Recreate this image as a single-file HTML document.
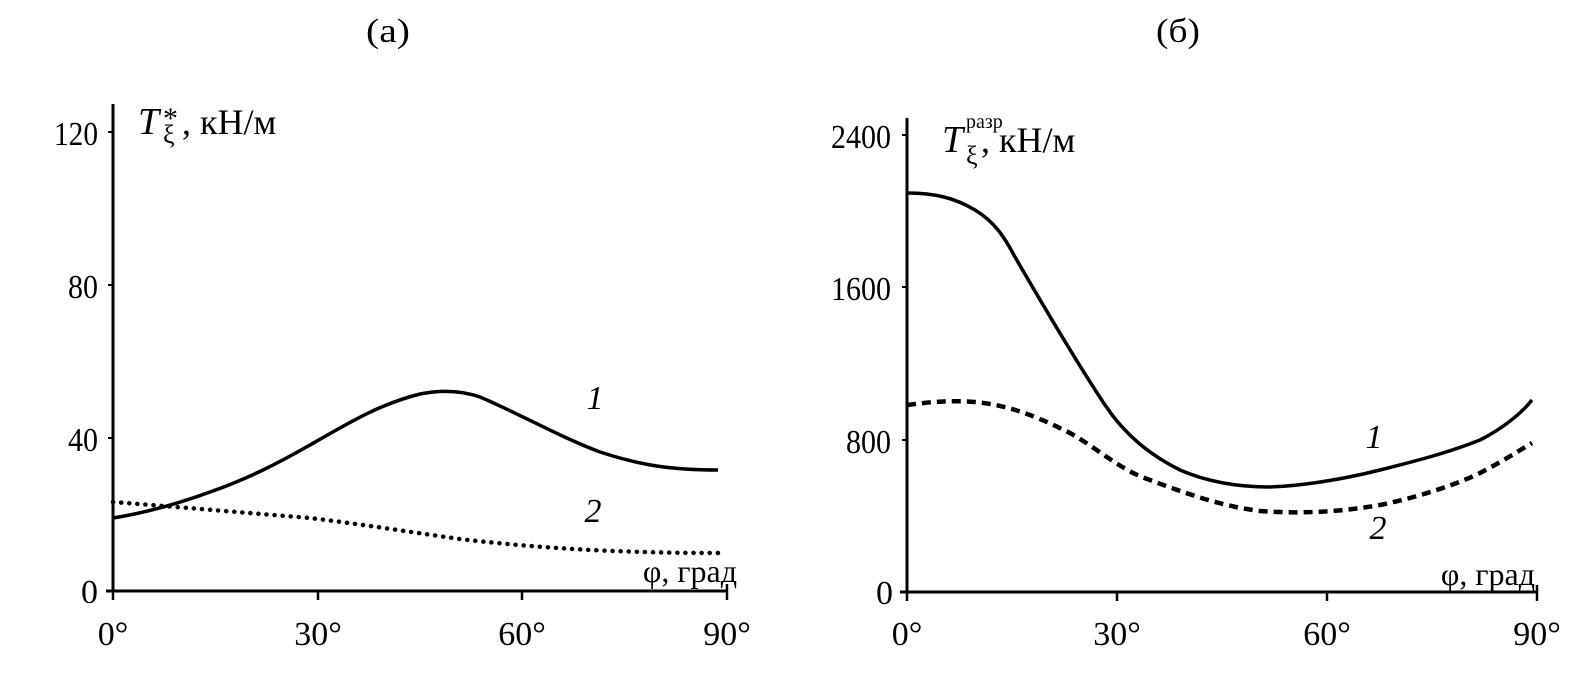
<!DOCTYPE html>
<html><head><meta charset="utf-8"><style>
html,body{margin:0;padding:0;background:#fff}
svg{display:block}
text{font-family:"Liberation Serif",serif;fill:#000}
</style></head><body>
<svg width="1594" height="675" viewBox="0 0 1594 675" xmlns="http://www.w3.org/2000/svg">
<text x="388" y="42" font-size="34" text-anchor="middle" textLength="44" lengthAdjust="spacingAndGlyphs">(а)</text>
<text x="1178" y="42" font-size="34" text-anchor="middle" textLength="44" lengthAdjust="spacingAndGlyphs">(б)</text>

<!-- LEFT CHART -->
<g stroke="#000" fill="none">
<line x1="113" y1="104" x2="113" y2="592" stroke-width="3"/>
<line x1="106" y1="591" x2="728" y2="591" stroke-width="3"/>
<line x1="113" y1="591" x2="113" y2="600" stroke-width="2.5"/>
<line x1="318" y1="591" x2="318" y2="600" stroke-width="2.5"/>
<line x1="522" y1="591" x2="522" y2="600" stroke-width="2.5"/>
<line x1="727" y1="584" x2="727" y2="600" stroke-width="2.5"/>
<line x1="108" y1="132" x2="113" y2="132" stroke-width="2"/>
<line x1="108" y1="285" x2="113" y2="285" stroke-width="2"/>
<line x1="108" y1="438" x2="113" y2="438" stroke-width="2"/>
<path d="M113,518 C150,512 180,503 210,492 C250,478 280,462 310,445 C350,422 380,404 420,394 C440,390 460,390 480,397 C520,414 560,437 600,452 C640,465 670,470 718,470" stroke-width="3.5"/>
<path d="M113,502 C190,508 260,514 310,518 C360,524 410,532 460,539 C520,546 600,553 718,553" stroke-width="4.5" stroke-dasharray="0.1 8" stroke-linecap="round"/>
</g>
<g font-size="34">
<text x="98" y="145" text-anchor="end" textLength="44" lengthAdjust="spacingAndGlyphs">120</text>
<text x="98" y="298" text-anchor="end" textLength="30" lengthAdjust="spacingAndGlyphs">80</text>
<text x="98" y="451" text-anchor="end" textLength="30" lengthAdjust="spacingAndGlyphs">40</text>
<text x="98" y="603" text-anchor="end">0</text>
<text x="113" y="645" text-anchor="middle">0°</text>
<text x="318" y="645" text-anchor="middle">30°</text>
<text x="522" y="645" text-anchor="middle">60°</text>
<text x="727" y="645" text-anchor="middle">90°</text>
<text x="737" y="582" text-anchor="end" font-size="32">φ, град</text>
<text x="595" y="409" text-anchor="middle" font-style="italic">1</text>
<text x="593" y="522" text-anchor="middle" font-style="italic">2</text>
<text x="138" y="134" font-style="italic" font-size="38">T</text>
<text x="163" y="128" font-size="30">*</text>
<text x="163" y="143" font-size="26">ξ</text>
<text x="182" y="134" font-size="36">, кН/м</text>
</g>

<!-- RIGHT CHART -->
<g stroke="#000" fill="none">
<line x1="907" y1="118" x2="907" y2="593" stroke-width="3"/>
<line x1="900" y1="592" x2="1538" y2="592" stroke-width="3"/>
<line x1="907" y1="592" x2="907" y2="601" stroke-width="2.5"/>
<line x1="1117" y1="592" x2="1117" y2="601" stroke-width="2.5"/>
<line x1="1327" y1="592" x2="1327" y2="601" stroke-width="2.5"/>
<line x1="1537" y1="585" x2="1537" y2="601" stroke-width="2.5"/>
<line x1="902" y1="135" x2="907" y2="135" stroke-width="2"/>
<line x1="902" y1="287" x2="907" y2="287" stroke-width="2"/>
<line x1="902" y1="440" x2="907" y2="440" stroke-width="2"/>
<path d="M907,193 C935,193 955,198 975,210 C995,222 1005,238 1015,257 C1040,300 1075,360 1105,405 C1125,435 1150,455 1180,470 C1210,483 1240,487 1270,487 C1300,486 1340,480 1380,470 C1420,460 1450,452 1480,440 C1500,430 1520,415 1532,400" stroke-width="3.5"/>
<path d="M907,405 C930,402 950,400 975,402 C1010,405 1040,418 1070,433 C1100,450 1120,470 1150,480 C1185,493 1220,506 1260,511 C1300,514 1340,512 1380,505 C1420,497 1460,483 1480,473 C1505,460 1520,450 1532,443" stroke-width="4.5" stroke-dasharray="9 6"/>
</g>
<g font-size="34">
<text x="891" y="148" text-anchor="end" textLength="60" lengthAdjust="spacingAndGlyphs">2400</text>
<text x="891" y="300" text-anchor="end" textLength="60" lengthAdjust="spacingAndGlyphs">1600</text>
<text x="891" y="453" text-anchor="end" textLength="45" lengthAdjust="spacingAndGlyphs">800</text>
<text x="893" y="604" text-anchor="end">0</text>
<text x="907" y="645" text-anchor="middle">0°</text>
<text x="1117" y="645" text-anchor="middle">30°</text>
<text x="1327" y="645" text-anchor="middle">60°</text>
<text x="1537" y="645" text-anchor="middle">90°</text>
<text x="1535" y="585" text-anchor="end" font-size="32">φ, град</text>
<text x="1374" y="448" text-anchor="middle" font-style="italic">1</text>
<text x="1378" y="539" text-anchor="middle" font-style="italic">2</text>
<text x="942" y="152" font-style="italic" font-size="38">T</text>
<text x="966" y="128" font-size="20">разр</text>
<text x="966" y="164" font-size="26">ξ</text>
<text x="981" y="152" font-size="36">, кН/м</text>
</g>
</svg>
</body></html>
